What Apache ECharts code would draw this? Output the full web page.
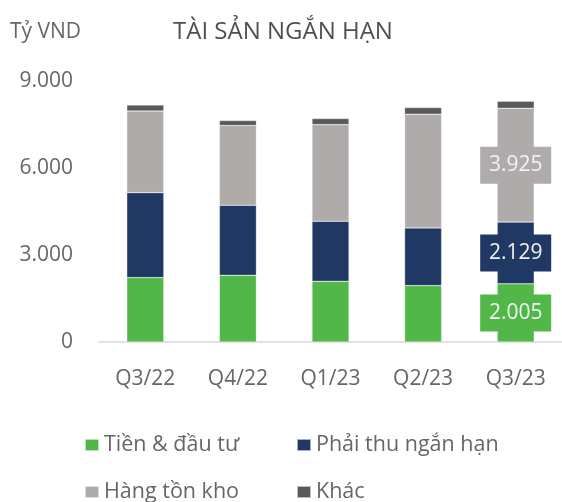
<!DOCTYPE html>
<html>
<head>
<meta charset="utf-8">
<script src="https://cdn.jsdelivr.net/npm/echarts@6/dist/echarts.min.js"></script>
<style>
  html, body { margin: 0; padding: 0; background: #fff; }
  #chart { width: 562px; height: 502px; }
</style>
</head>
<body>
<div id="chart"></div>
<script>
// du lieu doc tu hinh
var quarters = ['Q3/22', 'Q4/22', 'Q1/23', 'Q2/23', 'Q3/23'];
var tienDauTu = [2220, 2300, 2093, 1945, 2005];
var phaiThu = [2930, 2415, 2070, 1990, 2129];
var hangTonKho = [2815, 2750, 3334, 3920, 3925];
var khac = [207, 172, 207, 228, 241];
var yTicks = [0, 3000, 6000, 9000];

var FONT = 'Open Sans';
var TXT = '#666666';
var colors = ['#51b748', '#203864', '#afabab', '#595959'];
var names = ['Tiền & đầu tư', 'Phải thu ngắn hạn', 'Hàng tồn kho', 'Khác'];

var chart = echarts.init(document.getElementById('chart'), null, { renderer: 'canvas' });

function vn(v) { return echarts.format.addCommas(v).replace(/,/g, '.'); }

// chi cot cuoi co nhan
function withLastLabel(arr, color) {
  return arr.map(function (v, i) {
    if (i !== arr.length - 1) return v;
    return {
      value: v,
      label: {
        show: true,
        position: 'inside',
        formatter: function (p) { return vn(p.value); },
        color: '#f2f2f2',
        fontFamily: FONT,
        fontSize: 21,
        backgroundColor: color,
        width: 59,
        align: 'center',
        padding: [8, 6]
      }
    };
  });
}

function legendAt(idx, left, top) {
  return {
    data: [names[idx]],
    left: left,
    top: top,
    icon: 'rect',
    itemWidth: 14,
    itemHeight: 12,
    itemGap: 6,
    textStyle: { fontFamily: FONT, fontSize: 21.5, color: TXT },
    selectedMode: false
  };
}

var option = {
  animation: false,
  color: colors,
  title: [
    {
      text: 'TÀI SẢN NGẮN HẠN',
      left: 168,
      top: 15,
      textStyle: { fontFamily: FONT, fontSize: 24, fontWeight: 'normal', color: '#505050' }
    },
    {
      text: 'Tỷ VND',
      left: 5,
      top: 17,
      textStyle: { fontFamily: FONT, fontSize: 21, fontWeight: 'normal', color: TXT }
    }
  ],
  legend: [
    legendAt(0, 79, 429),
    legendAt(1, 291, 429),
    legendAt(2, 79, 476),
    legendAt(3, 291, 476)
  ],
  grid: { left: 99, right: 0, top: 81, bottom: 160 },
  xAxis: {
    type: 'category',
    data: quarters,
    axisTick: { show: false },
    axisLine: { lineStyle: { color: '#d9d9d9', width: 1.5 } },
    axisLabel: { fontFamily: FONT, fontSize: 21, color: TXT, margin: 27 }
  },
  yAxis: {
    type: 'value',
    min: yTicks[0],
    max: yTicks[yTicks.length - 1],
    interval: 3000,
    splitLine: { show: false },
    axisLine: { show: false },
    axisTick: { show: false },
    axisLabel: { fontFamily: FONT, fontSize: 21, color: TXT, margin: 26, formatter: vn }
  },
  series: [
    { name: names[0], type: 'bar', stack: 'ts', barWidth: 37, data: withLastLabel(tienDauTu, colors[0]),
      itemStyle: { borderColor: 'rgba(255,255,255,0.6)', borderWidth: 0.5 } },
    { name: names[1], type: 'bar', stack: 'ts', barWidth: 37, data: withLastLabel(phaiThu, colors[1]),
      itemStyle: { borderColor: 'rgba(255,255,255,0.6)', borderWidth: 0.5 } },
    { name: names[2], type: 'bar', stack: 'ts', barWidth: 37, data: withLastLabel(hangTonKho, colors[2]),
      itemStyle: { borderColor: 'rgba(255,255,255,0.6)', borderWidth: 0.5 } },
    { name: names[3], type: 'bar', stack: 'ts', barWidth: 37, data: khac,
      itemStyle: { borderColor: 'rgba(255,255,255,0.6)', borderWidth: 0.5 } }
  ]
};

chart.setOption(option);
</script>
</body>
</html>
